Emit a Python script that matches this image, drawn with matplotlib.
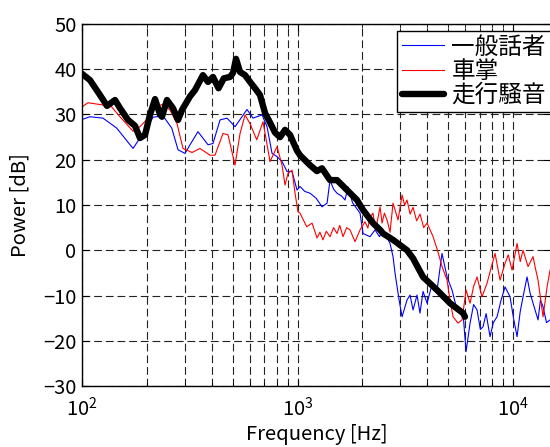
import numpy as np
import matplotlib
matplotlib.use("Agg")
import matplotlib.pyplot as plt

plt.rcParams['font.family'] = ['Noto Sans CJK JP', 'DejaVu Sans']
plt.rcParams['mathtext.fontset'] = 'custom'
plt.rcParams['mathtext.rm'] = 'Noto Sans CJK JP'
plt.rcParams['axes.unicode_minus'] = True

# series labels
labels = ["一般話者", "車掌", "走行騒音"]

# 一般話者 (blue)
f_speaker = [100, 108.9, 125.2, 144.8, 172.5, 191.9, 213.6, 237.6, 260.8, 279,
             300.6, 317, 345.2, 384.4, 405.4, 436.9, 470.9, 512.9, 583, 621.6,
             684.4, 722, 761.7, 803.5, 850, 894, 943, 994.7, 1027, 1080, 1143,
             1220, 1299, 1371, 1415, 1470, 1525, 1600, 1661, 1715, 1800, 1950,
             2014, 2170, 2289, 2400, 2494, 2687, 2774, 2835, 2960, 3055, 3221,
             3327, 3436, 3585, 3700, 3823, 3991, 4200, 4441, 4682, 4940, 5212,
             5497, 5862, 6053, 6318, 6560, 6808, 7050, 7258, 7500, 7822, 8100,
             8430, 8800, 9182, 9685, 10050, 10438, 10800, 11126, 11614, 12000,
             12382, 13062, 13400, 13780, 14300, 14850]
p_speaker = [28.9, 29.5, 29.2, 27.0, 22.5, 25.8, 29.4, 29.7, 27.0, 22.2,
             21.4, 23.3, 26.2, 23.3, 23.6, 28.8, 29.2, 27.3, 31.1, 29.2,
             29.9, 27.3, 21.4, 20.7, 19.5, 17.4, 17.4, 13.3, 14.1, 13.0, 12.6,
             11.5, 9.6, 10.4, 15.5, 13.5, 12.6, 12.0, 11.1, 14.0, 10.5, 8.2,
             3.7, 3.0, 4.5, 3.0, 4.5, 1.5, -1.4, -5.1, -11.0, -14.7, -11.0,
             -9.9, -13.2, -9.9, -13.9, -9.1, -11.7, -7.7, -8.8, -0.7, -5.9, -8.8,
             -13.2, -13.9, -22.4, -16.1, -12.0, -13.2, -17.5, -16.9, -14.0, -19.1, -16.0,
             -14.7, -11.0, -8.1, -10.3, -15.0, -19.1, -13.5, -10.3, -5.9, -9.5,
             -11.7, -15.4, -11.0, -12.5, -16.0, -15.4]

# 車掌 (red)
f_conductor = [100, 106.6, 125.2, 134.9, 150.1, 172.5, 185.8, 202.4, 222.8, 237.6,
               256, 275.9, 294.2, 323.8, 352.8, 392.6, 414.1, 450.8, 476, 512.9,
               541.1, 570.7, 602, 646.7, 691.8, 745.6, 803.5, 847.5, 875, 903.6,
               943, 973.6, 1005, 1027, 1103, 1168, 1232, 1270, 1312, 1360, 1415,
               1470, 1525, 1570, 1626, 1690, 1752, 1849, 1950, 2057, 2120, 2170,
               2240, 2300, 2338, 2415, 2467, 2530, 2602, 2687, 2774, 2835, 2927,
               3055, 3140, 3221, 3330, 3436, 3570, 3702, 3850, 3991, 4256, 4487,
               4682, 4940, 5101, 5268, 5556, 5799, 6053, 6318, 6560, 6808, 7178,
               7574, 7900, 8252, 8703, 9182, 9500, 9895, 10438, 10800, 11126, 11738,
               12382, 12700, 13062, 13780, 14381, 14850]
p_conductor = [31.7, 32.6, 32.1, 32.1, 29.5, 26.3, 27.3, 29.2, 31.7, 32.3,
               31.0, 28.0, 22.5, 21.6, 22.5, 21.0, 21.0, 25.8, 25.5, 18.8,
               25.8, 29.9, 28.0, 24.4, 28.4, 19.6, 22.9, 18.8, 14.4, 17.0,
               17.7, 12.6, 8.5, 8.2, 5.2, 6.0, 2.7, 4.0, 2.3, 4.2, 3.0,
               5.0, 3.7, 5.5, 3.0, 5.0, 4.5, 1.9, 4.5, 6.3, 4.9, 7.4,
               8.2, 4.5, 6.0, 9.6, 6.0, 8.2, 6.7, 4.0, 10.4, 8.9, 6.7,
               12.2, 10.0, 11.1, 8.0, 9.5, 6.5, 8.0, 5.0, 6.0, 3.0, -0.4,
               -3.6, -6.6, -11.0, -14.7, -16.1, -15.4, -8.8, -11.7, -8.0, -5.9, -10.3,
               -7.3, -4.0, -0.7, -6.6, -2.9, -1.0, -4.4, 1.5, -2.5, 0.0, -3.6,
               -1.4, -4.0, -6.6, -14.7, -8.1, -4.4]

# 走行騒音 (black)
f_noise = [100, 108.9, 121.2, 130.6, 142.3, 150.1, 163.5, 176.2, 185.8, 196.1,
           206.9, 218.2, 230.1, 235, 247.9, 264.3, 279, 291.1, 317, 334.5,
           364, 384.4, 405.4, 430, 455, 486.2, 502, 518.4, 541.1,
           570.7, 602, 635, 669.9, 706.9, 745.6, 786.5, 829.6, 875, 923,
           994.7, 1027, 1143, 1230, 1299, 1415, 1525, 1697, 1888, 2014,
           2240, 2415, 2494, 2774, 3221, 3436, 3823, 4441, 5101, 5862, 5984]
p_noise = [39.0, 37.6, 34.3, 31.9, 33.2, 31.4, 28.8, 27.5, 24.8, 25.5,
           30.0, 33.4, 30.0, 29.5, 33.2, 31.4, 28.8, 31.0, 34.0, 35.4,
           38.7, 37.2, 38.3, 35.8, 38.0, 38.3, 39.2, 42.3, 39.4,
           38.7, 37.2, 35.8, 34.3, 30.3, 28.2, 26.0, 25.0, 26.6, 25.5,
           22.0, 21.0, 18.8, 17.5, 18.1, 15.5, 15.5, 13.3, 11.1, 8.9,
           6.0, 4.5, 3.7, 2.3, 0.0, -1.8, -5.9, -8.8, -11.7, -13.9, -14.7]

fig = plt.figure(figsize=(5.5, 4.47), dpi=100)
ax = fig.add_axes([82 / 550, 61 / 447, 469 / 550, 362 / 447])

ax.plot(f_speaker, p_speaker, color='#0000ff', lw=0.8, label=labels[0])
ax.plot(f_conductor, p_conductor, color='#ff0000', lw=0.8, label=labels[1])
ax.plot(f_noise, p_noise, color='k', lw=4.6, label=labels[2],
        solid_capstyle='round', solid_joinstyle='round')

ax.set_xscale('log')
ax.set_xlim(100, 15000)
ax.set_ylim(-30, 50)
ax.set_yticks(np.arange(-30, 51, 10))

dash = (0, (7, 3.5))
ax.grid(True, which='major', color='#222222', lw=0.8, linestyle=dash)
ax.grid(True, which='minor', axis='x', color='#222222', lw=0.8, linestyle=dash)

ax.tick_params(which='both', direction='in', top=True, right=True, labelsize=14.5)
ax.tick_params(which='major', length=5)
ax.tick_params(axis='y', which='major', pad=4)
ax.tick_params(axis='x', which='major', pad=8)
ax.tick_params(which='minor', length=3)
for s in ax.spines.values():
    s.set_linewidth(1.0)

ax.set_xlabel("Frequency [Hz]", fontsize=14.5, labelpad=2)
ax.set_ylabel("Power [dB]", fontsize=14.5, labelpad=9)

leg = ax.legend(loc='upper left', bbox_to_anchor=(397 / 550, 1 - 31 / 447),
                bbox_transform=fig.transFigure, fontsize=17, frameon=True,
                fancybox=False, framealpha=1, edgecolor='k', borderpad=0.2,
                handlelength=1.8, handletextpad=0.3, labelspacing=0.05,
                borderaxespad=0)
leg.get_frame().set_linewidth(1.0)

fig.savefig("out.png", dpi=100)
